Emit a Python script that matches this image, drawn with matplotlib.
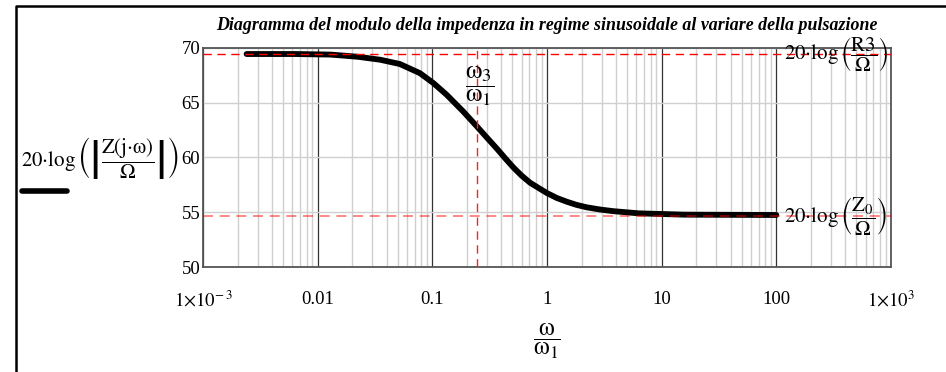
import matplotlib
matplotlib.use("Agg")
import matplotlib.pyplot as plt
from matplotlib.lines import Line2D
from matplotlib.ticker import FixedLocator, LogLocator, NullFormatter

plt.rcParams['font.family'] = ['Liberation Serif', 'DejaVu Serif']
plt.rcParams['mathtext.fontset'] = 'stix'

# valori: pulsazione normalizzata w/w1 e modulo in dB
w_norm = [0.0024, 0.0063, 0.0129, 0.0224, 0.035, 0.052, 0.078, 0.102,
          0.133, 0.186, 0.244, 0.30, 0.366, 0.43, 0.508, 0.60, 0.711,
          0.85, 1.0, 1.22, 1.49, 1.8, 2.22, 2.9, 3.78, 6.3, 15.8, 100]
mod_dB = [69.45, 69.45, 69.4, 69.2, 68.93, 68.54, 67.7, 66.8,
          65.74, 64.2, 62.85, 61.8, 60.8, 59.95, 59.1, 58.35, 57.7,
          57.2, 56.75, 56.3, 55.96, 55.68, 55.45, 55.25, 55.1, 54.9, 54.78, 54.75]

R3_dB = 69.45     # 20 log(R3/Ohm)
Z0_dB = 54.7      # 20 log(Z0/Ohm)
w3_norm = 0.245   # w3/w1

x_ticks = [1e-3, 1e-2, 1e-1, 1, 10, 100, 1e3]
x_labels = [r'$1{\times}10^{-\,3}$', '0.01', '0.1', '1', '10', '100', r'$1{\times}10^{3}$']
y_ticks = [50, 55, 60, 65, 70]

fig = plt.figure(figsize=(9.46, 3.72), dpi=100)
ax = fig.add_axes([203/946, 1 - 267/372, (891 - 203)/946, (267 - 48)/372])

ax.set_xscale('log')
ax.set_xlim(1e-3, 1e3)
ax.set_ylim(50, 70)

# griglia
ax.xaxis.set_major_locator(FixedLocator(x_ticks))
ax.xaxis.set_minor_locator(LogLocator(base=10, subs=range(2, 10)))
ax.xaxis.set_minor_formatter(NullFormatter())
ax.set_xticklabels(x_labels)
ax.set_yticks(y_ticks)
ax.grid(which='minor', axis='x', color='#cfcfcf', lw=1.0)
ax.grid(which='major', axis='x', color='#333333', lw=0.9)
ax.grid(which='major', axis='y', color='#d0d0d0', lw=1.0)
ax.set_axisbelow(True)
ax.tick_params(which='both', length=0, labelsize=13.5)
ax.tick_params(axis='y', pad=2)
ax.tick_params(axis='x', pad=17)
for s in ax.spines.values():
    s.set_color('#555555')
    s.set_linewidth(1.3)

# curva
ax.plot(w_norm, mod_dB, color='black', lw=4.2, solid_capstyle='round',
        solid_joinstyle='round', zorder=3)

# linee di riferimento
ax.axhline(R3_dB, color='red', lw=1.0, ls=(0, (6, 4)), zorder=4)
ax.axhline(Z0_dB, color='red', lw=1.2, ls=(0, (6, 4)), alpha=0.55, zorder=4)
ax.axvline(w3_norm, color='#ff2020', lw=1.0, ls=(0, (6, 4)), zorder=4)

ax.set_title('Diagramma del modulo della impedenza in regime sinusoidale al variare della pulsazione',
             fontsize=12.9, fontweight='bold', fontstyle='italic', pad=13)

ax.text(0.26, 66.5, r'$\dfrac{\mathrm{\omega}_3}{\mathrm{\omega}_1}$', fontsize=19,
        ha='center', va='center', zorder=5)
ax.text(331, R3_dB, r'$20{\cdot}\log\left(\dfrac{\mathrm{R3}}{\Omega}\right)$',
        fontsize=15, ha='center', va='center', zorder=5)
ax.text(331, Z0_dB, r'$20{\cdot}\log\left(\dfrac{\mathrm{Z}_0}{\Omega}\right)$',
        fontsize=15, ha='center', va='center', zorder=5)

# etichette assi
fig.text(547/946, 1 - 341/372, r'$\dfrac{\mathrm{\omega}}{\mathrm{\omega}_1}$', fontsize=18,
         ha='center', va='center')
fig.text(100/946, 1 - 158/372,
         r'$20{\cdot}\log\left(\left|\dfrac{\mathrm{Z}(\mathrm{j}{\cdot}\mathrm{\omega})}{\Omega}\right|\right)$',
         fontsize=15, ha='center', va='center')
fig.add_artist(Line2D([22/946, 67/946], [1 - 191/372, 1 - 191/372], color='black', lw=4,
                      solid_capstyle='round', transform=fig.transFigure))

# cornice
fig.add_artist(Line2D([16/946, 16/946, 1.0], [0.0, 1 - 6/372, 1 - 6/372], color='black', lw=1.8,
                      transform=fig.transFigure))

fig.savefig('out.png', dpi=100)
